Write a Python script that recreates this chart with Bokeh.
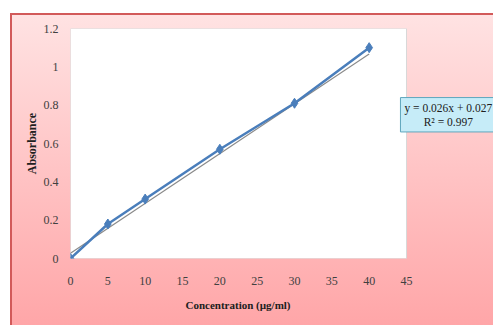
from bokeh.plotting import figure
from bokeh.models import Label, FixedTicker, Title
from bokeh.embed import file_html
from bokeh.resources import INLINE

# Data
conc = [0, 5, 10, 20, 30, 40]
absorb = [0.0, 0.18, 0.31, 0.57, 0.81, 1.10]
slope = 0.026
intercept = 0.027
r2 = 0.997
x_max = 45
y_max = 1.2
x_ticks = [0, 5, 10, 15, 20, 25, 30, 35, 40, 45]
y_ticks = [0, 0.2, 0.4, 0.6, 0.8, 1.0, 1.2]
y_tick_labels = ["0", "0.2", "0.4", "0.6", "0.8", "1", "1.2"]
x_label = "Concentration (µg/ml)"
y_label = "Absorbance"

SERIF = "Liberation Serif"

p = figure(width=483, height=312, output_backend="svg", toolbar_location=None,
           x_range=(0, 56.65), y_range=(0, y_max),
           min_border_left=60, min_border_right=0, min_border_top=15, min_border_bottom=67,
           margin=(13, 0, 0, 10),
           styles={"background": "linear-gradient(180deg, #ffe3e3 0%, #ffc4c5 50%, #ffa6a8 100%)",
                   "box-shadow": "inset 2px 2px 0 #d25a5a"})
p.border_fill_color = None
p.background_fill_color = None
p.outline_line_color = None
p.grid.visible = False

# white plot area
p.quad(left=0, right=x_max, bottom=0, top=y_max, fill_color="white",
       line_color="#d8d8d8", line_width=1)

p.xaxis.ticker = FixedTicker(ticks=x_ticks)
p.yaxis.ticker = FixedTicker(ticks=y_ticks)
p.yaxis.major_label_overrides = {t: l for t, l in zip(y_ticks, y_tick_labels)}

for ax in (p.xaxis[0], p.yaxis[0]):
    ax.axis_line_color = None
    ax.major_tick_line_color = None
    ax.minor_tick_line_color = None
    ax.major_label_text_font = SERIF
    ax.major_label_text_font_size = "12px"
    ax.major_label_text_color = "#404040"
    ax.axis_label_text_font = SERIF
    ax.axis_label_text_font_size = "12px"
    ax.axis_label_text_font_style = "bold"
    ax.axis_label_text_color = "#202020"

p.xaxis.major_label_standoff = 12
p.yaxis.major_label_standoff = 6
p.yaxis.axis_label = y_label
p.yaxis.axis_label_standoff = 2

xt = Title(text=x_label, align="left", offset=115, standoff=19,
           text_font=SERIF, text_font_size="11px", text_font_style="bold",
           text_color="#202020")
p.add_layout(xt, "below")

# trendline
tx = [conc[0], conc[-1]]
ty = [slope * v + intercept for v in tx]
p.line(tx, ty, line_color="#8a8a8a", line_width=1.2)

# data series
p.line(conc, absorb, line_color="#4a7ebb", line_width=2.5)
p.scatter(conc, absorb, marker="diamond", size=10, fill_color="#4a7ebb", line_color="#4a7ebb")

eq = Label(x=50.6, y=0.75, x_units="data", y_units="data",
           text=f"y = {slope}x + {intercept}\nR² = {r2}",
           text_font=SERIF, text_font_size="11.5px", text_color="#202020",
           text_align="center", text_baseline="middle",
           background_fill_color="#c6ecf8", border_line_color="#5fa6bd",
           border_line_width=1, padding=4)
p.add_layout(eq)

open("out.html", "w").write(file_html(p, INLINE))
